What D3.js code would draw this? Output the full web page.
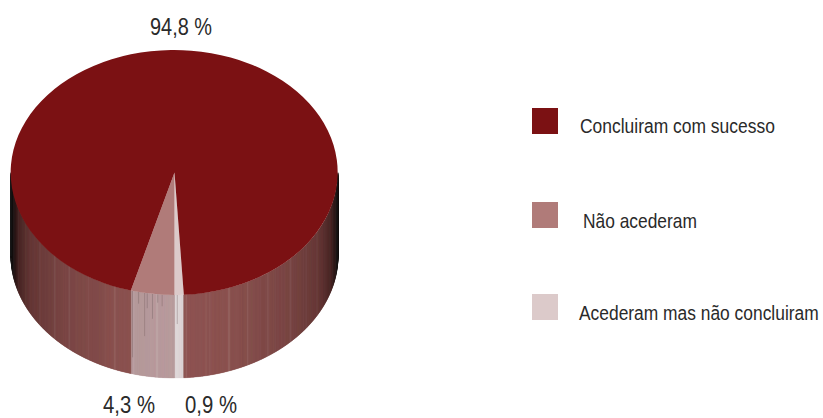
<!DOCTYPE html>
<html lang="pt">
<head>
<meta charset="utf-8">
<script src="https://cdn.jsdelivr.net/npm/d3@7/dist/d3.min.js"></script>
<style>
  html, body { margin: 0; padding: 0; background: #fff; }
  svg { display: block; }
  text { font-family: "Liberation Sans", Arial, sans-serif; fill: #2a2a2a; }
</style>
</head>
<body>
<svg id="chart" width="823" height="418"></svg>
<script>
// Survey outcome shares, in the clockwise order the slices take around the disc.
const categories = ["Acederam mas não concluiram", "Não acederam", "Concluiram com sucesso"];
const shares = [0.9, 4.3, 94.8];
const shareLabels = ["0,9 %", "4,3 %", "94,8 %"];
const legendOrder = ["Concluiram com sucesso", "Não acederam", "Acederam mas não concluiram"];

const topColors = ["#dccaca", "#b07b79", "#7b1113"];
const wallColors = ["#dcd3d4", "#b59698", "#884a48"];

// Cylinder projection
const cx = 174.5, cy = 172.5, rx = 163.5, ry = 122.5, depth = 83;

const svg = d3.select("#chart");
const colorTop = d3.scaleOrdinal(categories, topColors);
const colorWall = d3.scaleOrdinal(categories, wallColors);

// The first slice ends exactly at the front of the disc.
const startAngle = Math.PI - 2 * Math.PI * shares[0] / d3.sum(shares);
const slices = d3.pie()
  .sort(null)
  .value((d, i) => shares[i])
  .startAngle(startAngle)
  .endAngle(startAngle + 2 * Math.PI)(categories);

const px = a => cx + rx * Math.sin(a);
const py = a => cy - ry * Math.cos(a);

// Wall brightness falls off toward the silhouette, keeping the hue,
// then turns near-black in the last few degrees.
const brightness = d3.scaleLinear()
  .domain([0, 0.33, 0.695, 0.88, 0.96, 1])
  .range([1, 0.97, 0.86, 0.74, 0.55, 0.4])
  .clamp(true);
const edgeBlack = d3.scaleLinear()
  .domain([0.955, 0.985, 0.998])
  .range([0, 0.55, 0.95])
  .clamp(true);

// Fine vertical sheen on the wall, a mix of periodic ripples.
const sheen = a => {
  const v = Math.sin(a * 97) + Math.sin(a * 211 + 1.3) + Math.sin(a * 43 + 0.4);
  return v > 2.1 ? 0.1 : v > 1.7 ? 0.05 : 0;
};

const wall = svg.append("g").attr("class", "wall");
const step = Math.PI / 900;
slices.forEach(s => {
  const a0 = Math.max(s.startAngle, Math.PI / 2);
  const a1 = Math.min(s.endAngle, 3 * Math.PI / 2);
  const ranges = [[a0, a1]];
  // The large slice wraps past the back and comes round to the front again.
  if (s.endAngle > 2 * Math.PI + Math.PI / 2) {
    ranges.push([2 * Math.PI + Math.PI / 2, s.endAngle]);
  }
  ranges.forEach(([from, to]) => {
    if (to <= from) return;
    const base = d3.rgb(colorWall(s.data));
    for (let a = from; a < to; a += step) {
      const b = Math.min(a + step, to);
      const t = Math.abs(Math.sin((a + b) / 2));
      const k = brightness(t);
      let c = d3.rgb(base.r * k, base.g * k, base.b * k).formatRgb();
      c = d3.interpolateRgb(c, "#181818")(edgeBlack(t));
      c = d3.interpolateRgb(c, "#ffffff")(sheen(a) * (1 - t * 0.5));
      wall.append("path")
        .attr("d", `M${px(a)},${py(a)}L${px(b)},${py(b)}L${px(b)},${py(b) + depth}L${px(a)},${py(a) + depth}Z`)
        .attr("fill", c)
        .attr("stroke", c)
        .attr("stroke-width", 0.35);
    }
  });
});

// Thin dark score marks running down from the rim of the pale slices:
// slice index, position across the slice and length as fractions.
const scoreMarks = [
  [1, 0.04, 0.8], [1, 0.18, 0.14], [1, 0.32, 0.52], [1, 0.38, 0.18], [1, 0.5, 0.3],
  [1, 0.62, 0.1], [1, 0.72, 0.14], [0, 0.3, 0.35]
];
svg.append("g").selectAll("line")
  .data(scoreMarks)
  .join("line")
  .each(function ([k, f, len]) {
    const s = slices[k];
    const a = s.endAngle - f * (s.endAngle - s.startAngle);
    d3.select(this)
      .attr("x1", px(a)).attr("x2", px(a))
      .attr("y1", py(a)).attr("y2", py(a) + len * depth);
  })
  .attr("stroke", "#6f5a5c")
  .attr("stroke-opacity", 0.45)
  .attr("stroke-width", 0.8);

// Top face: unit-radius arcs stretched onto the ellipse.
const arc = d3.arc().innerRadius(0).outerRadius(1);
svg.append("g")
  .attr("transform", `translate(${cx},${cy}) scale(${rx},${ry})`)
  .selectAll("path")
  .data(slices)
  .join("path")
  .attr("d", arc)
  .attr("fill", d => colorTop(d.data));

// Narrowed type: scale each text horizontally to its set width.
function fitWidth(sel, xOf, yOf, widthOf, anchorMiddle) {
  sel.attr("transform", function (d, i) {
    const sx = widthOf(d, i) / this.getComputedTextLength();
    const x = xOf(d, i) - (anchorMiddle ? widthOf(d, i) / 2 : 0);
    return `translate(${x},${yOf(d, i)}) scale(${sx},1)`;
  });
}

// Percentage labels
const labelPos = [[211, 413], [129, 413], [181, 35]];
svg.append("g").selectAll("text")
  .data(shareLabels)
  .join("text")
  .attr("font-size", 23)
  .text(d => d)
  .call(fitWidth, (d, i) => labelPos[i][0], (d, i) => labelPos[i][1],
        (d, i) => i === 2 ? 62 : 52, true);

// Legend
const swatchY = [108, 202, 294];
const legendX = [580, 583, 579];
const legendBase = [133, 228, 320];
const legendLen = [195, 114, 240];
const legend = svg.append("g").selectAll("g")
  .data(legendOrder)
  .join("g");
legend.append("rect")
  .attr("x", 532)
  .attr("y", (d, i) => swatchY[i])
  .attr("width", 26)
  .attr("height", 26)
  .attr("fill", d => colorTop(d));
legend.append("text")
  .attr("font-size", 21)
  .text(d => d)
  .call(fitWidth, (d, i) => legendX[i], (d, i) => legendBase[i], (d, i) => legendLen[i], false);
</script>
</body>
</html>
